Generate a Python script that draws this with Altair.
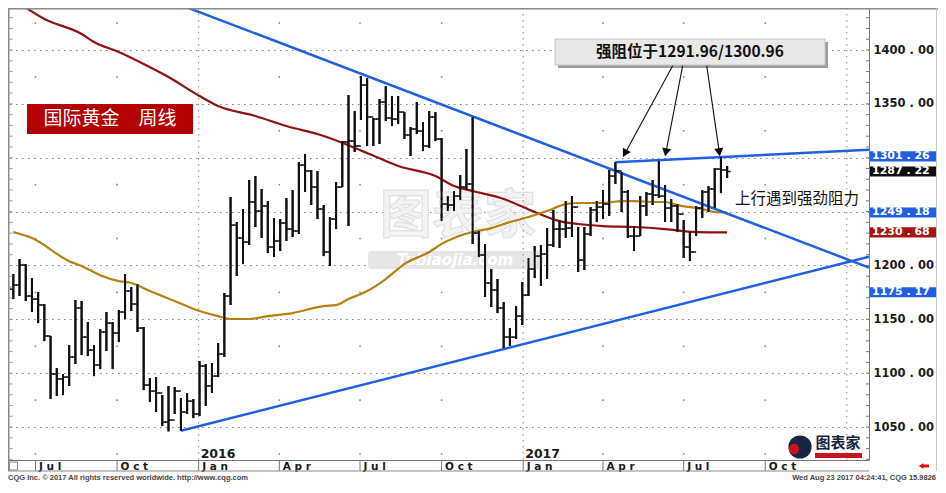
import altair as alt
import pandas as pd

# ---------------- values ----------------
FIRST_WEEK = "2015-06-06"          # date of the first weekly bar
first_open = 1178.0

highs = [
    1192.0, 1206.0, 1201.3, 1188.3, 1175.3, 1164.2, 1134.5, 1104.8, 1099.2, 1126.1,
    1167.9, 1167.0, 1147.5, 1126.1, 1141.0, 1156.8, 1147.5, 1158.6, 1192.0, 1180.0,
    1182.7, 1142.8, 1095.5, 1096.4, 1079.7, 1088.1, 1087.1, 1076.9, 1081.6, 1076.0,
    1111.3, 1108.5, 1109.4, 1128.0, 1174.4, 1263.5, 1240.3, 1252.4, 1279.3, 1283.0,
    1271.0, 1259.8, 1244.0, 1243.1, 1262.6, 1270.0, 1296.0, 1303.4, 1288.6, 1287.7,
    1256.1, 1245.0, 1277.4, 1315.5, 1358.2, 1343.4, 1375.9, 1374.0, 1336.9, 1354.5,
    1366.6, 1357.3, 1357.3, 1342.4, 1328.5, 1351.7, 1333.2, 1343.4, 1342.4, 1318.3,
    1264.4, 1269.1, 1284.0, 1308.1, 1337.8, 1232.0, 1219.9, 1196.7, 1187.4, 1166.0,
    1141.9, 1162.3, 1184.6, 1206.9, 1218.0, 1219.0, 1234.7, 1251.5, 1242.2, 1259.8,
    1264.4, 1235.7, 1235.7, 1254.2, 1259.8, 1270.0, 1288.6, 1296.0, 1286.7, 1270.0,
    1236.6, 1264.4, 1268.2, 1279.3, 1296.9, 1274.7, 1261.7, 1257.0, 1242.2, 1231.0,
    1255.2, 1270.0, 1273.7, 1290.4, 1300.9, 1292.3,
]
lows = [
    1168.8, 1171.6, 1167.0, 1156.8, 1146.5, 1129.8, 1076.0, 1078.8, 1079.7, 1088.1,
    1108.5, 1116.8, 1115.9, 1097.3, 1103.8, 1120.6, 1103.8, 1128.9, 1150.3, 1157.7,
    1138.2, 1084.3, 1073.2, 1063.9, 1050.9, 1046.0, 1062.1, 1046.6, 1062.1, 1058.3,
    1060.2, 1069.5, 1081.6, 1096.4, 1115.0, 1163.3, 1190.2, 1201.3, 1219.0, 1235.7,
    1225.5, 1211.5, 1207.8, 1213.4, 1222.7, 1226.4, 1229.2, 1268.2, 1256.1, 1243.1,
    1208.7, 1199.5, 1233.8, 1272.8, 1236.6, 1305.3, 1335.0, 1310.9, 1310.9, 1312.7,
    1334.1, 1329.4, 1331.3, 1317.4, 1301.6, 1322.0, 1306.2, 1309.0, 1315.5, 1241.2,
    1250.5, 1250.5, 1260.7, 1270.0, 1219.9, 1207.8, 1170.7, 1161.4, 1155.8, 1123.3,
    1125.2, 1131.7, 1144.7, 1171.6, 1188.3, 1180.9, 1187.4, 1217.1, 1216.2, 1225.5,
    1226.4, 1193.9, 1195.8, 1227.3, 1240.3, 1243.1, 1245.9, 1275.6, 1249.6, 1225.5,
    1213.4, 1227.3, 1245.9, 1256.1, 1262.6, 1240.3, 1240.3, 1231.0, 1206.9, 1204.1,
    1227.3, 1244.0, 1249.6, 1253.3, 1267.2, 1281.2,
]
closes = [
    1181.8, 1200.4, 1171.6, 1168.8, 1163.3, 1134.5, 1099.2, 1094.6, 1096.4, 1115.0,
    1160.5, 1133.5, 1121.5, 1107.6, 1138.2, 1146.5, 1137.3, 1156.8, 1176.3, 1164.2,
    1141.9, 1089.0, 1083.4, 1081.6, 1054.6, 1056.5, 1083.4, 1063.9, 1074.1, 1062.1,
    1106.6, 1088.1, 1097.3, 1117.8, 1171.6, 1237.5, 1225.5, 1221.7, 1258.9, 1250.5,
    1255.2, 1217.1, 1222.7, 1239.4, 1233.8, 1232.0, 1293.2, 1287.7, 1272.8, 1252.4,
    1212.5, 1243.1, 1272.8, 1314.6, 1315.5, 1310.9, 1367.5, 1337.8, 1335.9, 1351.7,
    1336.9, 1335.9, 1342.4, 1321.1, 1326.7, 1324.8, 1310.9, 1337.8, 1317.4, 1257.0,
    1256.1, 1264.4, 1272.8, 1275.6, 1230.1, 1209.7, 1183.7, 1177.2, 1160.5, 1133.5,
    1133.5, 1153.0, 1172.5, 1196.7, 1208.7, 1210.6, 1219.0, 1233.8, 1233.8, 1234.7,
    1254.2, 1205.0, 1229.2, 1251.5, 1254.2, 1257.0, 1283.0, 1287.7, 1268.2, 1227.3,
    1227.3, 1255.2, 1266.3, 1265.4, 1264.4, 1253.3, 1255.2, 1247.7, 1217.1, 1212.5,
    1253.3, 1268.2, 1271.0, 1289.5, 1288.6, 1287.22,
]

# moving averages: (bar index, value)
red_ma_idx = [0, 5, 11, 13, 17, 21, 25, 30, 33, 39, 44, 50, 57, 62, 68, 71, 74,
              79, 84, 88, 91, 95, 100, 105, 110, 115]
red_ma_val = [1447.3, 1428.8, 1414.9, 1407.4, 1398.1, 1387.0, 1374.9, 1357.3, 1348.0,
              1338.7, 1329.4, 1320.2, 1304.4, 1292.3, 1283.0, 1273.7, 1269.1, 1261.7,
              1249.6, 1241.2, 1238.5, 1236.6, 1235.7, 1233.8, 1231.0, 1230.68]
gold_ma_idx = [0, 3, 9, 11, 14, 17, 19, 22, 26, 30, 33, 35, 38, 41, 45, 50, 52, 54,
               57, 60, 63, 67, 69, 71, 74, 77, 80, 83, 86, 89, 91, 95, 98, 100, 103,
               105, 107, 111, 113, 115]
gold_ma_val = [1231.0, 1225.5, 1204.0, 1199.5, 1191.0, 1185.5, 1183.7, 1176.3, 1167.0,
               1157.7, 1153.0, 1150.3, 1150.3, 1153.0, 1155.8, 1162.3, 1163.2, 1168.8,
               1176.2, 1187.4, 1201.3, 1212.5, 1220.0, 1225.5, 1231.0, 1234.7, 1240.3,
               1245.0, 1250.5, 1257.0, 1258.0, 1258.0, 1259.8, 1259.8, 1258.9, 1258.9,
               1256.0, 1252.4, 1249.6, 1249.18]

# trend lines: pairs of (date, price)
trend_ids = ["down", "down", "up", "up", "top", "top"]
trend_dates = ["2015-12-06", "2018-01-26", "2015-12-12", "2018-01-26", "2017-04-15", "2018-01-26"]
trend_prices = [1443.6, 1198.0, 1046.6, 1208.1, 1295.7, 1307.4]

tag_values = [1301.26, 1287.22, 1249.18, 1230.68, 1175.17]
tag_colors = ["#1f5fe0", "#0d0d0d", "#1f5fe0", "#a31616", "#1f5fe0"]

y_ticks = [1050, 1100, 1150, 1200, 1250, 1300, 1350, 1400]
y_hidden = [1250, 1300]            # labels covered by the value tags
quarter_ticks = ["2015-07-01", "2015-10-01", "2016-01-01", "2016-04-01", "2016-07-01",
                 "2016-10-01", "2017-01-01", "2017-04-01", "2017-07-01", "2017-10-01"]
year_lines = ["2016-01-01", "2017-01-01", "2018-01-01"]
year_label_dates = ["2016-01-01", "2017-01-01"]
year_labels = ["2016", "2017"]

title_text = "国际黄金\u3000周线"
box_text = "强阻位于1291.96/1300.96"
note_text = "上行遇到强劲阻力"
footer_left = "CQG Inc. © 2017 All rights reserved worldwide. http://www.cqg.com"
footer_right = "Wed Aug 23 2017 04:24:41, CQG 15.9826"

# ---------------- layout ----------------
W, H = 861, 452
RIGHT_PAD, BOTTOM_PAD = 69, 22
X_DOMAIN = ["2015-05-31", "2018-01-26"]
Y_DOMAIN = [1019.4, 1439.0]

BLUE = "#1f5fe0"


def dt(s):
    y, m, d = (int(p) for p in s.split("-"))
    return alt.DateTime(year=y, month=m, date=d)


xs = alt.Scale(domain=[dt(s) for s in X_DOMAIN])
ys = alt.Scale(domain=Y_DOMAIN, nice=False, zero=False)

mon = "timeFormat(datum.value, '%b')"
x_axis = alt.Axis(
    values=[dt(s) for s in quarter_ticks],
    labelExpr=f"slice({mon},0,1) + ' ' + slice({mon},1,2) + ' ' + slice({mon},2,3)",
    orient="bottom", ticks=False, labelPadding=1, labelAlign="left",
    labelBaseline="top", labelOffset=3, labelFlush=False, labelOverlap=False,
    labelFont="DejaVu Sans", labelFontWeight="bold", labelFontSize=10.5, labelColor="#1a1a1a",
    domainColor="#777", domainWidth=1, grid=False, title=None)
hidden_test = " || ".join(f"datum.value == {v}" for v in y_hidden)
y_axis = alt.Axis(
    values=y_ticks, orient="right",
    labelExpr=f"({hidden_test}) ? '' : replace(format(datum.value, '.2f'), '.', ' . ')",
    ticks=False, labelPadding=4, labelAlign="left", labelBaseline="middle",
    labelFont="DejaVu Sans", labelFontWeight="bold", labelFontSize=11.5, labelColor="#1a1a1a",
    domainColor="#777", domainWidth=1, grid=True, gridColor="#7f7f7f",
    gridDash=[1.5, 4.5], gridWidth=1, title=None)


def X(field="date"):
    return alt.X(f"{field}:T", scale=xs, axis=x_axis, title=None)


def Y(field):
    return alt.Y(f"{field}:Q", scale=ys, axis=y_axis, title=None)


dates = pd.date_range(FIRST_WEEK, periods=len(closes), freq="7D")
opens = [first_open] + closes[:-1]
bars = pd.DataFrame(dict(date=dates, high=highs, low=lows, close=closes, open=opens))

red_df = pd.DataFrame({"date": dates[red_ma_idx], "value": red_ma_val})
gold_df = pd.DataFrame({"date": dates[gold_ma_idx], "value": gold_ma_val})
trend_df = pd.DataFrame({"id": trend_ids, "date": pd.to_datetime(trend_dates), "price": trend_prices})

dots = pd.DataFrame([(pd.Timestamp(q), lv) for q in quarter_ticks if not q.endswith("-01-01")
                     for lv in range(1025, 1426, 50)], columns=["date", "level"])
minor = pd.DataFrame({"level": list(range(1020, 1440, 10))})
qt = pd.DataFrame({"date": pd.to_datetime(quarter_ticks)})
yl = pd.DataFrame({"date": pd.to_datetime(year_lines)})
ylab = pd.DataFrame({"date": pd.to_datetime(year_label_dates), "label": year_labels})

tags = pd.DataFrame({"value": tag_values, "color": tag_colors})
tags["label"] = [f"{v:.2f}".replace(".", " . ") for v in tag_values]
tags["lo"] = tags["value"] - 4.7
tags["hi"] = tags["value"] + 4.7

one = pd.DataFrame({"k": [0]})


def seg(x1, y1, x2, y2, color, w=1.0, **kw):
    return alt.Chart(one).mark_rule(color=color, strokeWidth=w, **kw).encode(
        x=alt.value(x1), y=alt.value(y1), x2=alt.value(x2), y2=alt.value(y2))


def box(x1, y1, x2, y2, **kw):
    return alt.Chart(one).mark_rect(**kw).encode(
        x=alt.value(x1), y=alt.value(y1), x2=alt.value(x2), y2=alt.value(y2))


def label(x, y, text, **kw):
    return alt.Chart(one).mark_text(text=text, **kw).encode(x=alt.value(x), y=alt.value(y))


# ---------------- layers ----------------
layers = []

# OHLC bars (first, so that they own the axes)
layers.append(alt.Chart(bars).mark_rule(color="#111", strokeWidth=2).encode(
    x=X(), y=Y("low"), y2="high:Q"))

# watermark
layers.append(box(360, 243, 535, 261, color="#e6e6e6", cornerRadius=3))
layers.append(label(450, 209, "图表家", font="Noto Sans CJK SC", fontSize=52, fontWeight="bold",
                    fill="#f3f3f3", stroke="#e0e0e0", strokeWidth=1.2, baseline="middle"))
layers.append(label(447, 252, "Tubiaojia.com", font="DejaVu Sans", fontSize=15, fontWeight="bold",
                    fontStyle="italic", color="white", baseline="middle"))

# grid details
layers.append(alt.Chart(dots).mark_square(size=2.5, color="#888", opacity=1).encode(x=X(), y=Y("level")))
layers.append(alt.Chart(yl).mark_rule(color="#8a8a8a", strokeDash=[1.5, 4.5], strokeWidth=1).encode(x=X()))

# moving averages
layers.append(alt.Chart(red_df).mark_line(color="#8e1212", strokeWidth=2.2, clip=True,
                                          interpolate="monotone").encode(x=X(), y=Y("value")))
layers.append(alt.Chart(gold_df).mark_line(color="#b3820f", strokeWidth=2.2, clip=True,
                                           interpolate="monotone").encode(x=X(), y=Y("value")))

# trend lines
layers.append(alt.Chart(trend_df).mark_line(color=BLUE, strokeWidth=2.5, clip=True).encode(
    x=X(), y=Y("price"), detail="id:N"))

# bars on top of the lines + open/close ticks
layers.append(alt.Chart(bars).mark_rule(color="#111", strokeWidth=2).encode(
    x=X(), y=Y("low"), y2="high:Q"))
layers.append(alt.Chart(bars).mark_rule(color="#111", strokeWidth=1.5, x2Offset=3.5).encode(
    x=X(), x2="date:T", y=Y("close")))
layers.append(alt.Chart(bars).mark_rule(color="#111", strokeWidth=1.5, xOffset=-3.5).encode(
    x=X(), x2="date:T", y=Y("open")))

# minor ticks on both sides
layers.append(alt.Chart(minor).mark_rule(color="#777").encode(
    x=alt.value(W - 3), x2=alt.value(W), y=Y("level")))
layers.append(alt.Chart(minor).mark_rule(color="#999").encode(
    x=alt.value(1.5), x2=alt.value(4.5), y=Y("level")))

# bottom time band
layers.append(alt.Chart(qt).mark_rule(color="#777").encode(x=X(), y=alt.value(H), y2=alt.value(H + 11)))
layers.append(seg(0, H + 11, W, H + 11, "#888"))
layers.append(box(1.5, H + 2, 9.5, H + 10, fill="white", stroke="#888", strokeWidth=1))

# year labels
layers.append(alt.Chart(ylab).mark_text(align="left", baseline="middle", font="DejaVu Sans",
                                        fontWeight="bold", fontSize=12.5, color="#1a1a1a", dx=2).encode(
    x=X(), y=alt.value(H - 6), text="label:N"))

# title box
layers.append(box(19, 96, 185, 126, color="#b30000"))
layers.append(label(102, 111, title_text, font="Noto Sans CJK SC", fontSize=19, color="white",
                    baseline="middle"))

# resistance box + arrows
layers.append(box(550, 34, 820, 60, color="#9c9c9c"))
layers.append(box(547, 31, 817, 57, fill="#e8e8e8", stroke="#c4c4c4", strokeWidth=1))
layers.append(label(682, 44, box_text, font="Noto Sans CJK SC", fontSize=15.5, fontWeight="bold",
                    color="#111", baseline="middle"))

arrow_starts = [(664.7, 57.7), (674.7, 57.7), (698.7, 57.7)]
arrow_heads = [(616.9, 145.4), (657.9, 144.3), (711.3, 144.2)]
arrow_angles = [28.6, 11.0, 351.7]
for (sx, sy), (hx, hy), ang in zip(arrow_starts, arrow_heads, arrow_angles):
    layers.append(seg(sx, sy, hx, hy, "#111", 1.1))
    layers.append(alt.Chart(one).mark_point(shape="triangle-down", filled=True, size=85,
                                            color="#111", opacity=1).encode(
        x=alt.value(hx), y=alt.value(hy), angle=alt.value(ang)))

layers.append(label(727, 191, note_text, font="Noto Sans CJK SC", fontSize=15.5, color="#111",
                    align="left", baseline="middle"))

# value tags on the price axis
layers.append(alt.Chart(tags).mark_rect().encode(
    x=alt.value(W + 1), x2=alt.value(W + 68), y=Y("lo"), y2="hi:Q",
    color=alt.Color("color:N", scale=None)))
layers.append(alt.Chart(tags).mark_text(align="left", baseline="middle", font="DejaVu Sans",
                                        fontWeight="bold", fontSize=11, color="white").encode(
    x=alt.value(W + 3), y=Y("value"), text="label:N"))

# logo bottom right
layers.append(alt.Chart(one).mark_point(shape="circle", filled=True, size=540, color="#16263f",
                                        opacity=1).encode(x=alt.value(792), y=alt.value(439)))
layers.append(alt.Chart(one).mark_point(shape="circle", filled=True, size=110, color="#c4161c",
                                        opacity=1).encode(x=alt.value(786), y=alt.value(441)))
layers.append(label(830, 435, "图表家", font="Noto Sans CJK SC", fontSize=15, fontWeight="bold",
                    color="#16263f", baseline="middle"))
layers.append(box(807, 445, 854, 450, color="#c4161c"))

# frame
layers.append(seg(0, 0.75, W + RIGHT_PAD, 0.75, "#8a8a8a", 1.5))
layers.append(seg(0.75, 0, 0.75, H + 11, "#8a8a8a", 1.5))
layers.append(seg(W + RIGHT_PAD - 1.5, 0, W + RIGHT_PAD - 1.5, H + 11, "#c8c8c8", 1))

# footer
layers.append(label(0, H + 18, footer_left, font="Liberation Sans", fontSize=7.5, fontWeight="bold",
                    color="#444", align="left", baseline="middle"))
layers.append(label(W + RIGHT_PAD - 2, H + 18, footer_right, font="Liberation Sans", fontSize=7.5,
                    fontWeight="bold", color="#444", align="right", baseline="middle"))
layers.append(alt.Chart(one).mark_point(shape="triangle-left", filled=True, size=30, color="#e01010",
                                        opacity=1).encode(x=alt.value(W + 52), y=alt.value(H + 6)))
layers.append(seg(W + 53, H + 6, W + 60, H + 6, "#e01010", 3))

chart = alt.layer(*layers).properties(
    width=W, height=H,
    padding={"left": 0, "top": 0, "right": RIGHT_PAD, "bottom": BOTTOM_PAD},
    autosize=alt.AutoSizeParams(type="none"),
).configure_view(stroke=None).configure(background="white")

chart.save("out.html", embed_options={"renderer": "svg", "actions": False})
